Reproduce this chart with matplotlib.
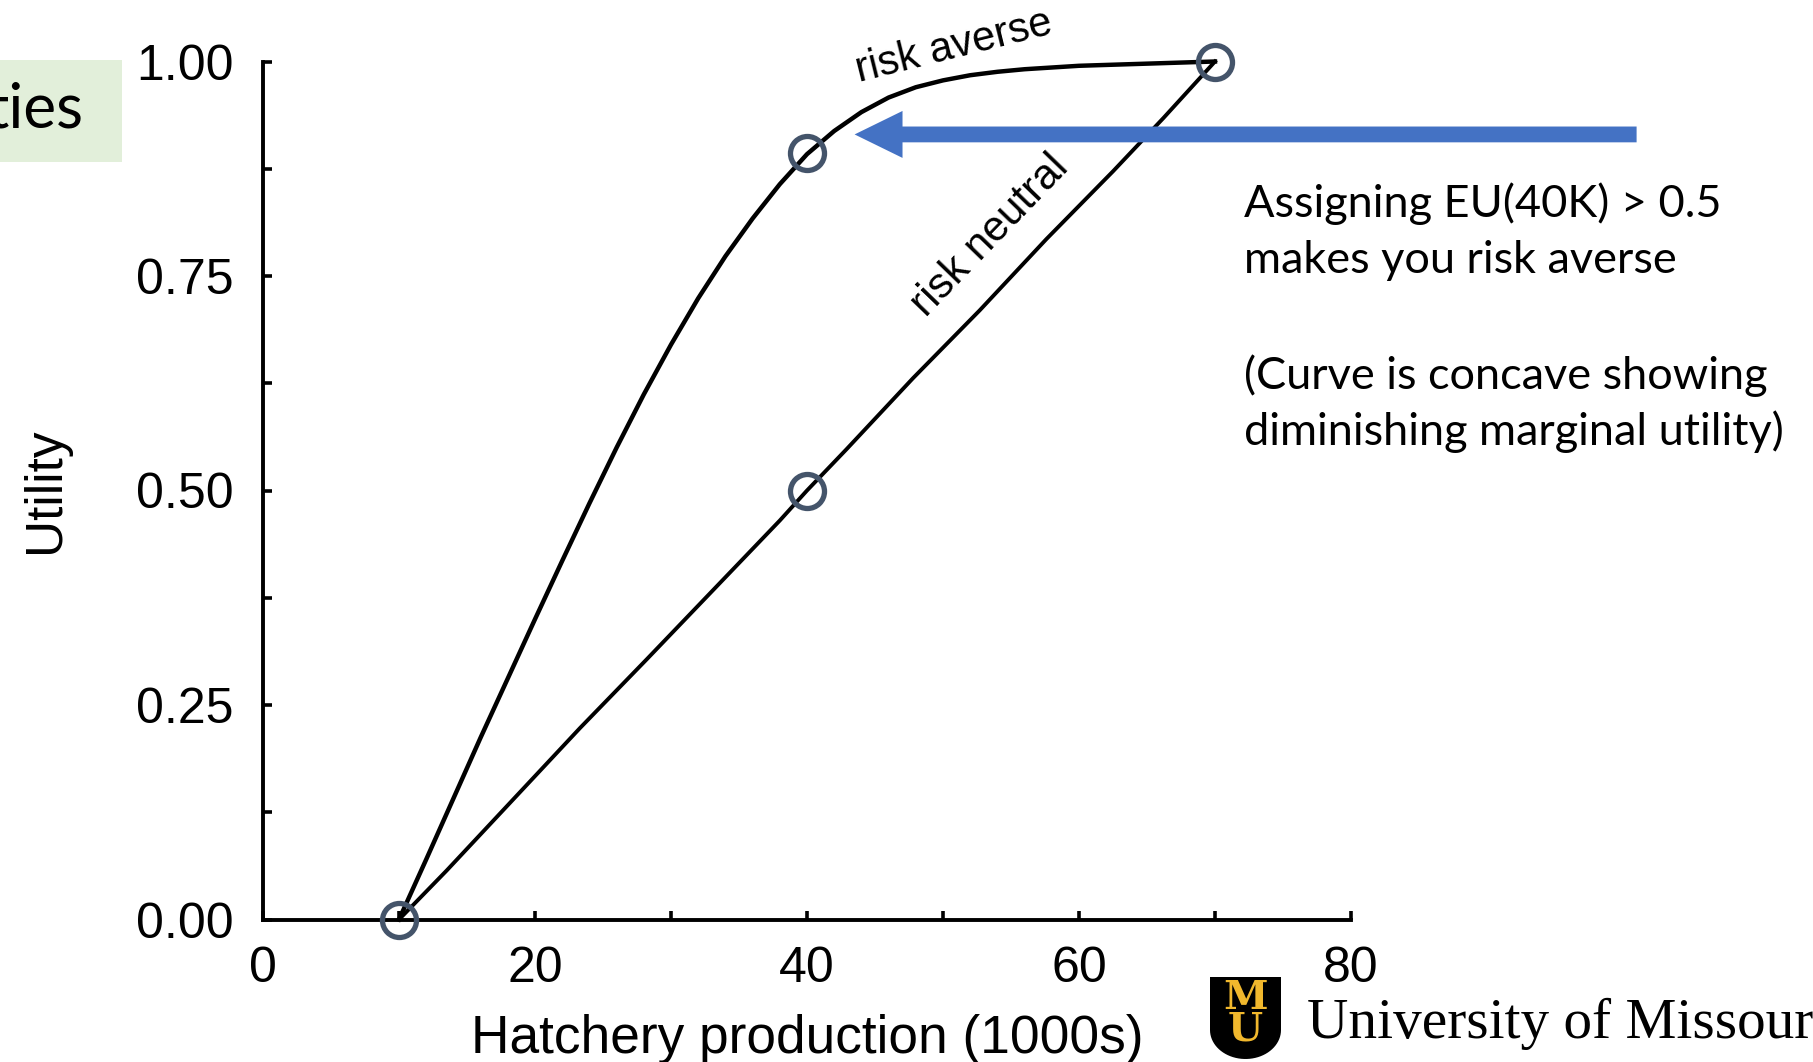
import numpy as np
import matplotlib
matplotlib.use("Agg")
import matplotlib.pyplot as plt
from matplotlib.patches import Rectangle, Polygon

# ---------------- data ----------------
ra_x = [10, 12, 14, 16, 18, 20, 22, 24, 26, 28, 30, 32, 34, 36, 38, 40,
        42, 44, 46, 48, 50, 52, 54, 56, 58, 60, 62, 64, 66, 68, 70]
ra_y = [0.0, 0.070, 0.141, 0.212, 0.281, 0.350, 0.418, 0.485, 0.550, 0.612,
        0.670, 0.724, 0.773, 0.817, 0.857, 0.892, 0.919, 0.941, 0.958, 0.970,
        0.978, 0.984, 0.988, 0.991, 0.993, 0.995, 0.996, 0.997, 0.998, 0.999, 1.0]

rn_x = [10, 13.5, 18.4, 23.3, 28.2, 33.1, 38.0, 40.0, 42.9, 47.8, 52.7,
        57.6, 62.5, 66.2, 70]
rn_y = [0.0, 0.057, 0.140, 0.223, 0.303, 0.384, 0.465, 0.5, 0.548, 0.631,
        0.710, 0.793, 0.872, 0.934, 1.0]

pt_x = [10, 40, 70, 40]
pt_y = [0.0, 0.893, 1.0, 0.5]

x_major = [0, 20, 40, 60, 80]
x_minor = [10, 30, 50, 70]
y_major = [0.0, 0.25, 0.50, 0.75, 1.00]
y_minor = [0.125, 0.375, 0.625, 0.875]
y_labels = ["0.00", "0.25", "0.50", "0.75", "1.00"]

arrow_tip = (43.5, 0.915)
arrow_tail = (101.0, 0.915)

note_lines = ["Assigning EU(40K) > 0.5", "makes you risk averse",
              "(Curve is concave showing", "diminishing marginal utility)"]

# ---------------- figure ----------------
plt.rcParams['font.family'] = ['Liberation Sans', 'DejaVu Sans']
W, H = 1813, 1062
fig = plt.figure(figsize=(W / 100, H / 100), dpi=100)
fig.patch.set_facecolor('white')

ov = fig.add_axes([0, 0, 1, 1], zorder=0)
ov.set_xlim(0, W)
ov.set_ylim(H, 0)
ov.axis('off')

ax = fig.add_axes([263 / W, 1 - 919.5 / H, 1088 / W, 858 / H], zorder=1)
ax.set_facecolor('none')
ax.set_xlim(0, 80)
ax.set_ylim(0, 1)
for s in ['top', 'right']:
    ax.spines[s].set_visible(False)
for s in ['left', 'bottom']:
    ax.spines[s].set_linewidth(2.8)

ax.set_xticks(x_major)
ax.set_xticks(x_minor, minor=True)
ax.set_xticklabels([str(v) for v in x_major])
ax.set_yticks(y_major)
ax.set_yticks(y_minor, minor=True)
ax.set_yticklabels(y_labels)
ax.tick_params(which='both', direction='in', length=6.5, width=2.6)
ax.tick_params(axis='both', labelsize=36)
ax.tick_params(axis='y', pad=21)
ax.tick_params(axis='x', pad=19)

ax.set_xlabel("Hatchery production (1000s)", fontsize=38.3)
ax.xaxis.set_label_coords(0.5, -0.110)
ax.set_ylabel("Utility", fontsize=37)
ax.yaxis.set_label_coords(-0.177, 0.5)

ax.plot(ra_x, ra_y, color='black', lw=3.2, clip_on=False, zorder=3,
        solid_joinstyle='round')
ax.plot(rn_x, rn_y, color='black', lw=2.8, clip_on=False, zorder=3,
        solid_joinstyle='round')
ax.plot(pt_x, pt_y, linestyle='none', marker='o', markersize=24.5,
        markerfacecolor='none', markeredgecolor='#44546A', markeredgewidth=3.8,
        clip_on=False, zorder=4)

ax.annotate('', xy=arrow_tip, xytext=arrow_tail, annotation_clip=False,
            arrowprops=dict(arrowstyle='simple,head_length=1.0,head_width=0.98,tail_width=0.33',
                            mutation_scale=34.5, color='#4472C4', shrinkA=0, shrinkB=0,
                            lw=0))

# curve labels
ov.text(954, 47, "risk averse", rotation=14, fontsize=30, ha='center', va='center')
ov.text(990, 236, "risk neutral", rotation=46, fontsize=30.5, ha='center', va='center')

# note text (Calibri-like)
calfam = ['Lato', 'DejaVu Sans']
renderer = fig.canvas.get_renderer()
probe = ov.text(1244, 445, note_lines[3], fontsize=34, family=calfam, va='baseline')
wpx = probe.get_window_extent(renderer).width
fs = 34 * 542 / wpx
probe.remove()
for line, yb in zip(note_lines, [217, 273, 389, 445]):
    ov.text(1244, yb, line, fontsize=fs, family=calfam, va='baseline', ha='left')

# green title box fragment at left
ov.add_patch(Rectangle((0, 60), 122, 102, facecolor='#E2EFDA', edgecolor='none', zorder=0))
ov.text(84, 128, "ties", fontsize=fs * 1.38, family=calfam, ha='right', va='baseline', zorder=1)

# logo
theta = np.linspace(0, np.pi, 40)
arc_x = 1245.5 + 35.5 * np.cos(theta)
arc_y = 1030 + 29 * np.sin(theta)
shield = [(1210, 977), (1281, 977)] + list(zip(arc_x, arc_y)) + [(1210, 977)]
ov.add_patch(Polygon(shield, closed=True, facecolor='black', edgecolor='none'))
ov.text(1245.5, 1014, "M\nU", fontsize=29, family=['DejaVu Serif'], fontweight='bold',
        color='#F1B82D', ha='center', va='center', linespacing=0.78,
        multialignment='center')
uni = ov.text(1307, 1038, "University of Missour", fontsize=44,
              family=['Liberation Serif'], ha='left', va='baseline')
uw = uni.get_window_extent(renderer).width
uni.set_fontsize(44 * 506 / uw)

fig.savefig("out.png", dpi=100)
